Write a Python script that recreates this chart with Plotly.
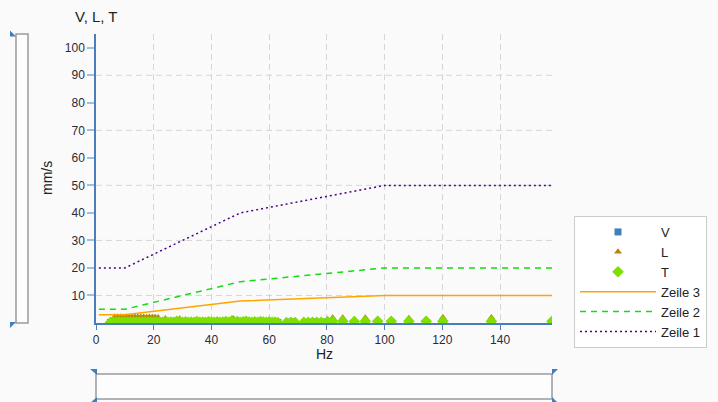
import plotly.graph_objects as go

# ---------------- data ----------------
v_hz = [5, 7, 9, 11, 13, 15, 17, 19, 21, 23, 25, 27, 29, 31, 33, 35, 37, 39, 41, 43,
        45, 47, 49, 51, 53, 55, 57, 59, 61, 63, 67.5, 68.5, 75, 76, 78.6, 80]
v_val = [0.2, 0.2, 0.2, 0.2, 0.2, 0.2, 0.2, 0.2, 0.2, 0.2, 0.2, 0.2, 0.2, 0.2, 0.2, 0.2, 0.2, 0.2, 0.2, 0.2,
         0.2, 0.2, 0.2, 0.2, 0.2, 0.2, 0.2, 0.2, 0.2, 0.2, 0.3, 0.3, 0.3, 0.3, 0.3, 0.3]

l_hz = [6.5, 7.5, 8.5, 9.5, 10.5, 11.5, 12.5, 13.5, 14.5, 15.5, 16.5, 17.5, 18.5, 19.5, 20.5, 21.5,
        24, 26, 29, 33, 37, 41, 44, 47.5, 51, 55, 59,
        80.2, 82, 85.5, 89.5, 93.3, 97.6, 102.3, 108.4, 114.4, 120.2, 137, 158]
l_val = [2.3, 2.3, 2.3, 2.2, 2.3, 2.2, 2.2, 2.3, 2.2, 2.2, 2.2, 2.1, 2.2, 2.1, 2.1, 2.0,
         1.6, 0.5, 1.5, 0.5, 0.5, 0.5, 0.5, 1.6, 0.5, 0.5, 0.5,
         1.2, 1.9, 1.9, 1.2, 1.9, 1.3, 1.2, 1.7, 1.2, 2.0, 2.0, 1.2]

t_hz = [5, 6, 7, 8, 9, 10, 11, 12, 13, 14, 15, 16, 17, 18, 19, 20, 21, 22, 23, 24,
        25, 26, 27, 28, 29, 30, 31, 32, 33, 34, 35, 36, 37, 38, 39, 40, 41, 42, 43, 44,
        45, 46, 47, 48, 49, 50, 51, 52, 53, 54, 55, 56, 57, 58, 59, 60, 61, 62, 63,
        66, 67.5, 69, 72, 73.5, 75, 76.5, 78, 80.2, 82, 85.5, 89.5, 93.3, 97.6, 102.3,
        108.4, 114.4, 120.2, 137, 158]
t_val = [0.2, 0.3, 0.3, 0.3, 0.3, 0.3, 0.3, 0.3, 0.3, 0.3, 0.3, 0.3, 0.3, 0.3, 0.3, 0.3, 0.3, 0.3, 0.2, 0.4,
         0.2, 0.3, 0.2, 0.6, 0.3, 0.2, 0.4, 0.2, 0.3, 0.2, 0.5, 0.2, 0.3, 0.2, 0.4, 0.3, 0.2, 0.4, 0.2, 0.3,
         0.5, 0.2, 0.7, 0.3, 0.5, 0.2, 0.4, 0.6, 0.3, 0.2, 0.4, 0.2, 0.5, 0.3, 0.2, 0.4, 0.2, 0.3, 0.1,
         0.1, 0.2, 0.1, 0.2, 0.2, 0.2, 0.2, 0.2, 0.5, 0.6, 0.6, 0.5, 0.6, 0.6, 0.6,
         0.6, 0.6, 0.6, 0.6, 0.6]

line_hz = [1, 10, 50, 100, 158]
zeile3 = [3, 3, 8, 10, 10]
zeile2 = [5, 5, 15, 20, 20]
zeile1 = [20, 20, 40, 50, 50]

x_ticks = [0, 20, 40, 60, 80, 100, 120, 140]
y_ticks = [10, 20, 30, 40, 50, 60, 70, 80, 90, 100]
y_grid = [10, 30, 50, 70, 90]

# ---------------- geometry helpers (pixel -> paper) ----------------
L, R, T, B = 96, 552, 34, 323
W, H = 718, 402


def px(x):
    return (x - L) / (R - L)


def py(y):
    return (B - y) / (B - T)


FONT = "Liberation Sans, Arial, sans-serif"
TXT = "#2a2a3a"
AXIS_BLUE = "#4a7ebb"
GRID = "#d6d6d6"

fig = go.Figure()
fig.add_trace(go.Scatter(x=v_hz, y=v_val, mode="markers", name="V",
                         marker=dict(symbol="square", size=7, color="#3f7fbf")))
fig.add_trace(go.Scatter(x=l_hz, y=l_val, mode="markers", name="L",
                         marker=dict(symbol="triangle-up", size=7, color="#b8860b")))
fig.add_trace(go.Scatter(x=t_hz, y=t_val, mode="markers", name="T",
                         marker=dict(symbol="diamond", size=9, color="#7ee000")))
fig.add_trace(go.Scatter(x=line_hz, y=zeile3, mode="lines", name="Zeile 3",
                         line=dict(color="#ffa500", width=1.5)))
fig.add_trace(go.Scatter(x=line_hz, y=zeile2, mode="lines", name="Zeile 2",
                         line=dict(color="#11dd11", width=1.5, dash="6px,5px")))
fig.add_trace(go.Scatter(x=line_hz, y=zeile1, mode="lines", name="Zeile 1",
                         line=dict(color="#4b0082", width=1.5, dash="2px,3px")))

shapes = []
# horizontal dashed gridlines at every other tick
for gv in y_grid:
    shapes.append(dict(type="line", xref="paper", yref="y", x0=0, x1=1, y0=gv, y1=gv,
                       line=dict(color=GRID, width=1, dash="6px,4px"), layer="below"))

blue = "#3f7fbf"
gray = "#9a9a9a"
# left vertical slider
shapes.append(dict(type="rect", xref="paper", yref="paper",
                   x0=px(16), x1=px(28), y0=py(34), y1=py(323),
                   line=dict(color=gray, width=1.5), fillcolor="#fdfdfd", layer="below"))
shapes.append(dict(type="path", xref="paper", yref="paper",
                   path=f"M{px(10)},{py(30.5)} L{px(10)},{py(36.5)} L{px(16)},{py(36.5)} Z",
                   line=dict(width=0), fillcolor=blue))
shapes.append(dict(type="path", xref="paper", yref="paper",
                   path=f"M{px(10)},{py(322)} L{px(16)},{py(322)} L{px(10)},{py(328)} Z",
                   line=dict(width=0), fillcolor=blue))
# bottom horizontal slider
shapes.append(dict(type="rect", xref="paper", yref="paper",
                   x0=px(96), x1=px(552), y0=py(374), y1=py(399),
                   line=dict(color=gray, width=1.5), fillcolor="#fdfdfd"))
shapes.append(dict(type="path", xref="paper", yref="paper",
                   path=f"M{px(90)},{py(369)} L{px(97)},{py(369)} L{px(97)},{py(375)} Z",
                   line=dict(width=0), fillcolor=blue))
shapes.append(dict(type="path", xref="paper", yref="paper",
                   path=f"M{px(552)},{py(369)} L{px(558)},{py(369)} L{px(552)},{py(375)} Z",
                   line=dict(width=0), fillcolor=blue))
shapes.append(dict(type="path", xref="paper", yref="paper",
                   path=f"M{px(90)},{py(403)} L{px(97)},{py(397)} L{px(97)},{py(403)} Z",
                   line=dict(width=0), fillcolor=blue))
shapes.append(dict(type="path", xref="paper", yref="paper",
                   path=f"M{px(552)},{py(397)} L{px(558)},{py(403)} L{px(552)},{py(403)} Z",
                   line=dict(width=0), fillcolor=blue))

annotations = [
    dict(text="V, L, T", xref="paper", yref="paper", x=px(96), y=py(17),
         xanchor="center", yanchor="middle", showarrow=False,
         font=dict(family=FONT, size=15, color="#222")),
    dict(text="mm/s", xref="paper", yref="paper", x=px(47), y=py(178),
         xanchor="center", yanchor="middle", showarrow=False, textangle=-90,
         font=dict(family=FONT, size=14, color="#222")),
    dict(text="Hz", xref="paper", yref="paper", x=px(324), y=py(354),
         xanchor="center", yanchor="middle", showarrow=False,
         font=dict(family=FONT, size=14, color="#222")),
]

fig.update_layout(
    width=W, height=H,
    margin=dict(l=L, r=W - R, t=T, b=H - B, pad=0, autoexpand=False),
    paper_bgcolor="#fafafa", plot_bgcolor="#fafafa",
    font=dict(family=FONT, size=12, color=TXT),
    xaxis=dict(range=[0, 158], tickvals=x_ticks, showgrid=True,
               gridcolor=GRID, gridwidth=1, griddash="6px,4px",
               zeroline=False, showline=True, linecolor=AXIS_BLUE, linewidth=1.5,
               ticks="outside", ticklen=5, tickcolor=AXIS_BLUE, automargin=False,
               tickfont=dict(family=FONT, size=12, color=TXT)),
    yaxis=dict(range=[0, 105], tickvals=y_ticks, showgrid=False, zeroline=False,
               showline=True, linecolor=AXIS_BLUE, linewidth=1.5, automargin=False,
               ticks="outside", ticklen=7, tickcolor="#9fbfdf", tickwidth=2,
               tickfont=dict(family=FONT, size=12, color=TXT)),
    legend=dict(x=px(574), y=py(216), xanchor="left", yanchor="top",
                bgcolor="#ffffff", bordercolor="#cccccc", borderwidth=1,
                font=dict(family=FONT, size=13, color="#222"),
                itemwidth=76, tracegroupgap=0),
    shapes=shapes,
    annotations=annotations,
)

fig.write_html("out.html", config={"displayModeBar": False},
               post_script="document.body.style.margin='0';document.body.style.padding='0';")
